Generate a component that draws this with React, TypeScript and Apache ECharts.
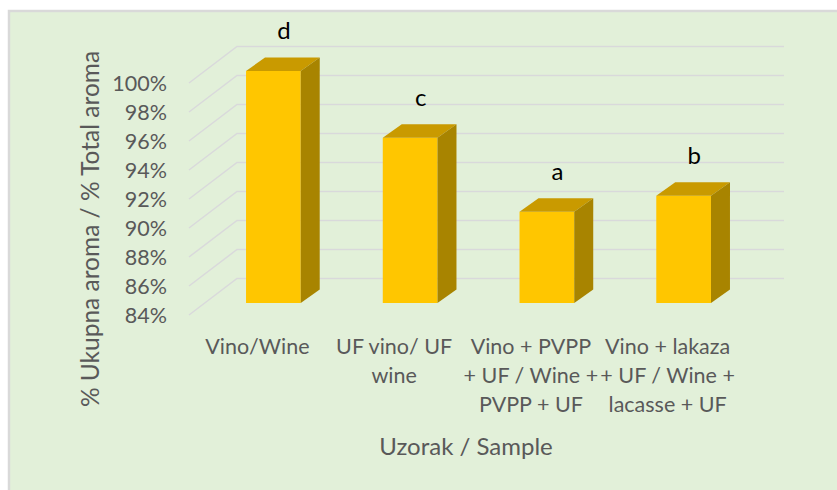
import React, { useEffect, useRef } from "react";
import * as echarts from "echarts";

const categories = [
  "Vino/Wine",
  "UF vino/ UF\nwine",
  "Vino + PVPP\n+ UF / Wine +\nPVPP + UF",
  "Vino + lakaza\n+ UF / Wine +\nlacasse + UF",
];
const values = [100, 95.4, 90.3, 91.4];
const letters = ["d", "c", "a", "b"];
const yTicks = [84, 86, 88, 90, 92, 94, 96, 98, 100];
const yTitle = "% Ukupna aroma / % Total aroma";
const xTitle = "Uzorak / Sample";

const FONT = "Lato";
const GRAY = "#595959";
// depth offsets (px)
const WALL_DX = 48;
const WALL_DY = 36.5;
const BAR_FX = 16;
const BAR_FY = 12;
const BAR_DX = 19;
const BAR_DY = 13.5;

export default function App() {
  const ref = useRef<HTMLDivElement>(null);
  useEffect(() => {
    document.body.style.margin = "0";
    const chart = echarts.init(ref.current!, null, { renderer: "svg" });
    const yMin = yTicks[0];
    chart.setOption({
      animation: false,
      backgroundColor: "#ffffff",
      graphic: [
        {
          type: "rect",
          z: -10,
          shape: { x: 9, y: 11, width: 840, height: 490 },
          style: { fill: "#E2F0D9", stroke: "#D9D9D9", lineWidth: 2.5 },
        },
        {
          type: "text",
          z: 10,
          x: 89,
          y: 229,
          rotation: Math.PI / 2,
          style: {
            text: yTitle,
            fill: GRAY,
            font: `24.5px ${FONT}`,
            align: "center",
            verticalAlign: "middle",
          },
        },
        {
          type: "text",
          z: 10,
          x: 466,
          y: 445,
          style: {
            text: xTitle,
            fill: GRAY,
            font: `24px ${FONT}`,
            align: "center",
            verticalAlign: "middle",
          },
        },
      ],
      grid: { left: 189, top: 83, width: 547, height: 232 },
      xAxis: {
        type: "category",
        data: categories,
        axisLine: { show: false },
        axisTick: { show: false },
        splitLine: { show: false },
        axisLabel: {
          margin: 16,
          color: GRAY,
          fontFamily: FONT,
          fontSize: 21.5,
          lineHeight: 29,
          interval: 0,
          align: "center",
        },
      },
      yAxis: {
        type: "value",
        min: yMin,
        max: yTicks[yTicks.length - 1],
        interval: 2,
        axisLine: { show: false },
        axisTick: { show: false },
        splitLine: { show: false },
        axisLabel: {
          margin: 22,
          color: GRAY,
          fontFamily: FONT,
          fontSize: 21.5,
          formatter: (v: number) => `${v}%`,
        },
      },
      series: [
        {
          type: "custom",
          z: 1,
          data: yTicks.map((v) => [0, v]),
          renderItem: (params: any, api: any) => {
            const cs = params.coordSys;
            const y = api.coord([0, api.value(1)])[1];
            return {
              type: "polyline",
              shape: {
                points: [
                  [cs.x, y],
                  [cs.x + WALL_DX, y - WALL_DY],
                  [cs.x + cs.width + WALL_DX, y - WALL_DY],
                ],
              },
              style: { stroke: "#D9D9DB", lineWidth: 1.5, fill: "none" },
            };
          },
        },
        {
          type: "custom",
          z: 2,
          data: values.map((v, i) => [i, v]),
          renderItem: (params: any, api: any) => {
            const i = api.value(0);
            const v = api.value(1);
            const top = api.coord([i, v]);
            const base = api.coord([i, yMin]);
            const w = api.size([1, 0])[0] * 0.4;
            const fx = top[0] - w / 2 + BAR_FX;
            const ft = top[1] - BAR_FY;
            const fb = base[1] - BAR_FY;
            return {
              type: "group",
              children: [
                {
                  type: "rect",
                  shape: { x: fx, y: ft, width: w, height: fb - ft },
                  style: { fill: "#FFC600" },
                },
                {
                  type: "polygon",
                  shape: {
                    points: [
                      [fx, ft],
                      [fx + w, ft],
                      [fx + w + BAR_DX, ft - BAR_DY],
                      [fx + BAR_DX, ft - BAR_DY],
                    ],
                  },
                  style: { fill: "#C99A00" },
                },
                {
                  type: "polygon",
                  shape: {
                    points: [
                      [fx + w, ft],
                      [fx + w + BAR_DX, ft - BAR_DY],
                      [fx + w + BAR_DX, fb - BAR_DY],
                      [fx + w, fb],
                    ],
                  },
                  style: { fill: "#A88400" },
                },
                {
                  type: "text",
                  x: fx + w / 2 + BAR_DX / 2 + 1,
                  y: ft - BAR_DY - 28,
                  style: {
                    text: letters[i],
                    fill: "#000000",
                    font: `24px ${FONT}`,
                    align: "center",
                    verticalAlign: "middle",
                  },
                },
              ],
            };
          },
        },
      ],
    });
    return () => chart.dispose();
  }, []);
  return <div ref={ref} style={{ width: 837, height: 490 }} />;
}
